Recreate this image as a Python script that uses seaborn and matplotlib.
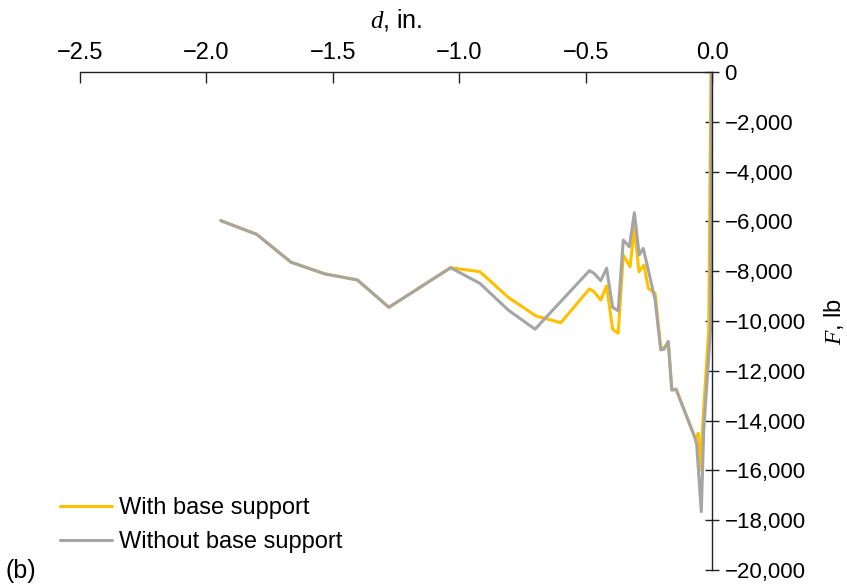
import matplotlib
matplotlib.use("Agg")
import matplotlib.pyplot as plt
import seaborn as sns
import pandas as pd

# ---- data ----
with_label = "With base support"
without_label = "Without base support"

d_with = [-1.943, -1.801, -1.665, -1.531, -1.403, -1.278, -1.034, -0.918, -0.806,
          -0.696, -0.598, -0.485, -0.467, -0.440, -0.417, -0.393, -0.371, -0.351,
          -0.324, -0.307, -0.289, -0.269, -0.252, -0.225, -0.203, -0.190, -0.173,
          -0.159, -0.142, -0.067, -0.054, -0.046, -0.0356, -0.013, -0.004]
f_with = [-5970, -6520, -7640, -8110, -8350, -9450, -7860, -8020, -9050,
          -9800, -10070, -8710, -8820, -9160, -8590, -10330, -10490, -7350,
          -7820, -6210, -8020, -7750, -8690, -8890, -11040, -11100, -10830,
          -12770, -12740, -14700, -14510, -15980, -13980, -10360, 0]

d_without = [-1.943, -1.801, -1.665, -1.531, -1.403, -1.278, -1.034, -0.918, -0.806,
             -0.700, -0.485, -0.467, -0.440, -0.417, -0.393, -0.371, -0.351, -0.327,
             -0.307, -0.288, -0.272, -0.252, -0.225, -0.203, -0.190, -0.173, -0.159,
             -0.142, -0.067, -0.0605, -0.0423, -0.0328, -0.0059, -0.002]
f_without = [-5970, -6520, -7640, -8110, -8350, -9450, -7860, -8490, -9560,
             -10330, -7980, -8080, -8380, -7880, -9450, -9590, -6750, -7020,
             -5650, -7350, -7080, -7950, -9160, -11160, -11140, -10830, -12770,
             -12740, -14700, -14980, -17660, -14380, -10360, 0]

x_ticks = [-2.5, -2.0, -1.5, -1.0, -0.5, 0.0]
y_ticks = list(range(0, -20001, -2000))

# ---- build long table ----
df = pd.concat([
    pd.DataFrame({"d": d_with, "F": f_with, "series": with_label}),
    pd.DataFrame({"d": d_without, "F": f_without, "series": without_label}),
], ignore_index=True)

sns.set_style("white")
plt.rcParams["font.family"] = ["Liberation Sans", "DejaVu Sans"]
plt.rcParams["mathtext.fontset"] = "custom"
plt.rcParams["mathtext.it"] = "Liberation Serif:italic"
plt.rcParams["mathtext.rm"] = "Liberation Sans"
plt.rcParams["axes.unicode_minus"] = True
plt.rcParams["text.color"] = "black"
plt.rcParams["axes.labelcolor"] = "black"

fig = plt.figure(figsize=(8.47, 5.84), dpi=100)
ax = fig.add_axes([80 / 847, 1 - 570 / 584, (712 - 80) / 847, (570 - 72) / 584])

palette = {with_label: "#FFC000", without_label: "#A5A5A5"}
sns.lineplot(data=df, x="d", y="F", hue="series", palette=palette,
             estimator=None, sort=False, linewidth=2.2, ax=ax, legend=True)

ax.set_xlim(-2.5, 0.0)
ax.set_ylim(-20000, 0)

# spines: x axis on top, y axis on right
for s in ["left", "bottom"]:
    ax.spines[s].set_visible(False)
for s in ["top", "right"]:
    ax.spines[s].set_visible(True)
    ax.spines[s].set_color("#222222")
    ax.spines[s].set_linewidth(1.0)

ax.xaxis.tick_top()
ax.xaxis.set_label_position("top")
ax.yaxis.tick_right()
ax.yaxis.set_label_position("right")

ax.set_xticks(x_ticks)
ax.set_xticklabels([f"{v:.1f}".replace("-", "\u2212") for v in x_ticks])
ax.set_yticks(y_ticks)
ax.set_yticklabels([f"{v:,}".replace("-", "\u2212") for v in y_ticks])

ax.tick_params(axis="x", direction="in", length=8, width=1, pad=6,
               labelsize=17, colors="#222222", labelcolor="black")
ax.tick_params(axis="y", direction="inout", length=10, width=1, pad=4,
               labelsize=16, colors="#222222", labelcolor="black")

ax.set_xlabel(r"$d$, in.", fontsize=18, labelpad=10)
ax.set_ylabel(r"$F$, lb", fontsize=17, labelpad=12)

ax.grid(False)

# legend
leg = ax.legend(loc="upper left",
                bbox_to_anchor=(60 / 847, 1 - 497 / 584),
                bbox_transform=fig.transFigure,
                frameon=False, fontsize=17, handlelength=2.2,
                handletextpad=0.3, labelspacing=0.5,
                borderpad=0, borderaxespad=0)
for line in leg.get_lines():
    line.set_linewidth(2.2)
for t in leg.get_texts():
    t.set_color("black")

fig.text(5 / 847, 1 - 571 / 584, "(b)", fontsize=18, ha="left", va="center")

fig.savefig("out.png", dpi=100)
